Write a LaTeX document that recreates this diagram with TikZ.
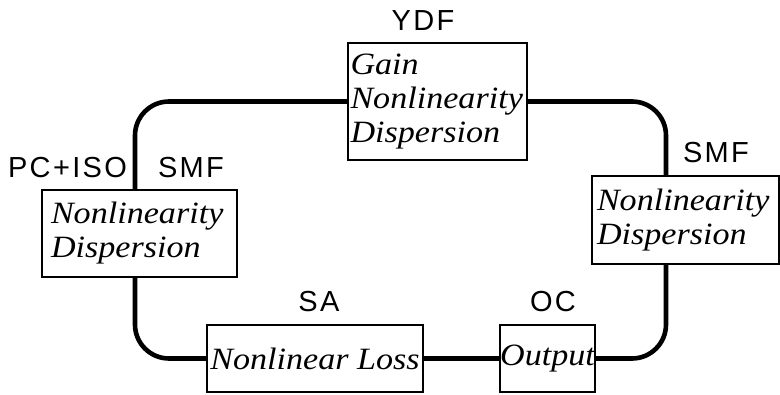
\documentclass[tikz,border=0pt]{standalone}
\usepackage{fontspec}
\setmainfont{Liberation Serif}
\newfontfamily\labelfont[LetterSpace=8]{Liberation Sans}
\newfontfamily\roleFont[FakeStretch=1.1]{Liberation Serif Italic}
\begin{document}
\begin{tikzpicture}[x=1pt,y=-1pt,
  fiber/.style={line width=4.6pt,rounded corners=34pt},
  stage/.style={draw,line width=2.2pt,fill=white,rectangle,inner xsep=0pt,inner ysep=0pt,
    align=left,font=\roleFont\fontsize{31}{34}\selectfont},
  tag/.style={font=\labelfont\fontsize{29}{30}\selectfont,inner sep=0pt}]
  \useasboundingbox (0,0) rectangle (780,395);

  % fiber loop columns
  \coordinate (lx) at (135,0);
  \coordinate (rx) at (666,0);

  % stages of the cavity
  \node[stage,minimum width=179pt,minimum height=117pt,text width=174pt] (ydf) at (437.5,101.5)
    {Gain\\Nonlinearity\\Dispersion};
  \node[stage,minimum width=195pt,minimum height=87pt,text width=177pt] (lsmf) at (139.5,233.5)
    {Nonlinearity\\Dispersion};
  \node[stage,minimum width=187pt,minimum height=88pt,text width=177pt] (rsmf) at (685.5,220)
    {Nonlinearity\\Dispersion};
  \node[stage,minimum width=216pt,minimum height=67pt,align=center] (sa) at (315,358.5)
    {Nonlinear Loss};
  \node[stage,minimum width=93pt,minimum height=67pt,align=center] (oc) at (547.5,358.5)
    {Output};

  % labels
  \node[tag] (ydflab) at (423,21) {YDF};
  \node[tag] (pciso) at (67.5,168) {PC+ISO};
  \node[tag] (lsmflab) at (191,168) {SMF};
  \node[tag] (rsmflab) at (716,153) {SMF};
  \node[tag] (salab) at (319,302) {SA};
  \node[tag] (oclab) at (553,302) {OC};

  % fiber connections
  \draw[fiber] (ydf.east) -| (rx |- rsmf.north);
  \draw[fiber] (rx |- rsmf.south) |- (oc.east);
  \draw[fiber] (oc.west) -- (sa.east);
  \draw[fiber] (sa.west) -| (lx |- lsmf.south);
  \draw[fiber] (lx |- lsmf.north) |- (ydf.west);
\end{tikzpicture}
\end{document}
